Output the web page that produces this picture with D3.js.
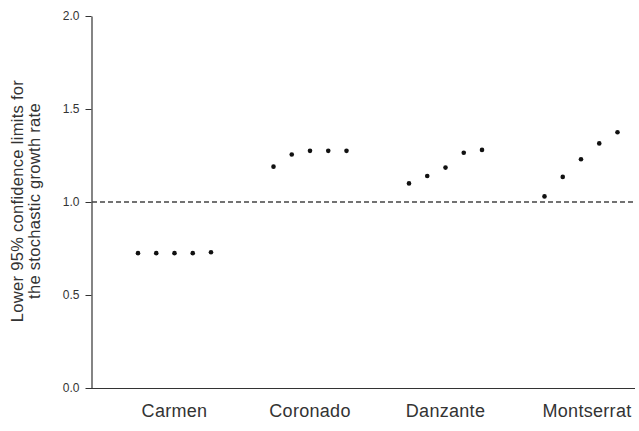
<!DOCTYPE html>
<html>
<head>
<meta charset="utf-8">
<script src="https://cdn.jsdelivr.net/npm/d3@7"></script>
<style>
  body { margin: 0; background: #fff; }
  text { font-family: "Liberation Sans", Arial, sans-serif; }
</style>
</head>
<body>
<div id="chart"></div>
<script>
// islands along the x axis
var islands = ["Carmen", "Coronado", "Danzante", "Montserrat"];

// lower 95% confidence limits, five scenarios per island
var carmen = [0.725, 0.725, 0.725, 0.725, 0.73];
var coronado = [1.19, 1.255, 1.275, 1.275, 1.275];
var danzante = [1.10, 1.14, 1.185, 1.265, 1.28];
var montserrat = [1.03, 1.135, 1.23, 1.315, 1.375];

var yTicks = [0, 0.5, 1.0, 1.5, 2.0];
var refLine = 1.0;

var series = [carmen, coronado, danzante, montserrat];

var width = 639, height = 431;

var svg = d3.select("#chart").append("svg")
    .attr("width", width)
    .attr("height", height);

// y scale
var y = d3.scaleLinear().domain([0, 2]).range([388, 16]);

// group centres, then small offsets for the dots in each group
var x = d3.scalePoint().domain(islands).range([174.5, 581]);
var dx = d3.scaleLinear().domain([0, 4]).range([-36.5, 36.5]);

// y axis
var yAxis = d3.axisLeft(y)
    .tickValues(yTicks)
    .tickFormat(d3.format(".1f"))
    .tickSize(6)
    .tickSizeOuter(0)
    .tickPadding(6);

var gy = svg.append("g")
    .attr("transform", "translate(91.5,0)")
    .call(yAxis);
gy.select(".domain").attr("stroke", "#333").attr("stroke-width", 1.2);
gy.selectAll(".tick line").attr("stroke", "#333");
gy.selectAll(".tick text")
    .attr("fill", "#333")
    .style("font-size", "12px");

// x axis line only (labels placed by hand below)
svg.append("line")
    .attr("x1", 91)
    .attr("x2", 635)
    .attr("y1", y(0) + 0.5)
    .attr("y2", y(0) + 0.5)
    .attr("stroke", "#333")
    .attr("stroke-width", 1.2);

svg.selectAll(".xlab")
    .data(islands)
  .enter().append("text")
    .attr("class", "xlab")
    .attr("x", function(d, i) { return x(d) + (i == 3 ? 6 : 0); })
    .attr("y", 417)
    .attr("text-anchor", "middle")
    .attr("fill", "#333")
    .style("font-size", "18px")
    .style("letter-spacing", "0.3px")
    .text(function(d) { return d; });

// dashed reference line at 1.0
svg.append("line")
    .attr("x1", 92)
    .attr("x2", 635)
    .attr("y1", y(refLine))
    .attr("y2", y(refLine))
    .attr("stroke", "#444")
    .attr("stroke-width", 1.3)
    .attr("stroke-dasharray", "5,3");

// the dots
var pts = [];
series.forEach(function(vals, gi) {
  vals.forEach(function(v, i) {
    pts.push({ island: islands[gi], i: i, value: v });
  });
});

svg.selectAll("circle")
    .data(pts)
  .enter().append("circle")
    .attr("cx", function(d) { return x(d.island) + dx(d.i); })
    .attr("cy", function(d) { return y(d.value); })
    .attr("r", 2.3)
    .attr("fill", "#111");

// y axis title, two lines
var title = svg.append("text")
    .attr("transform", "translate(24,201) rotate(-90)")
    .attr("text-anchor", "middle")
    .attr("fill", "#333")
    .style("font-size", "16.5px")
    .style("letter-spacing", "0.3px");
title.append("tspan").attr("x", 0).attr("dy", "-0.05em").text("Lower 95% confidence limits for");
title.append("tspan").attr("x", 0).attr("dy", "1.02em").text("the stochastic growth rate");
</script>
</body>
</html>
